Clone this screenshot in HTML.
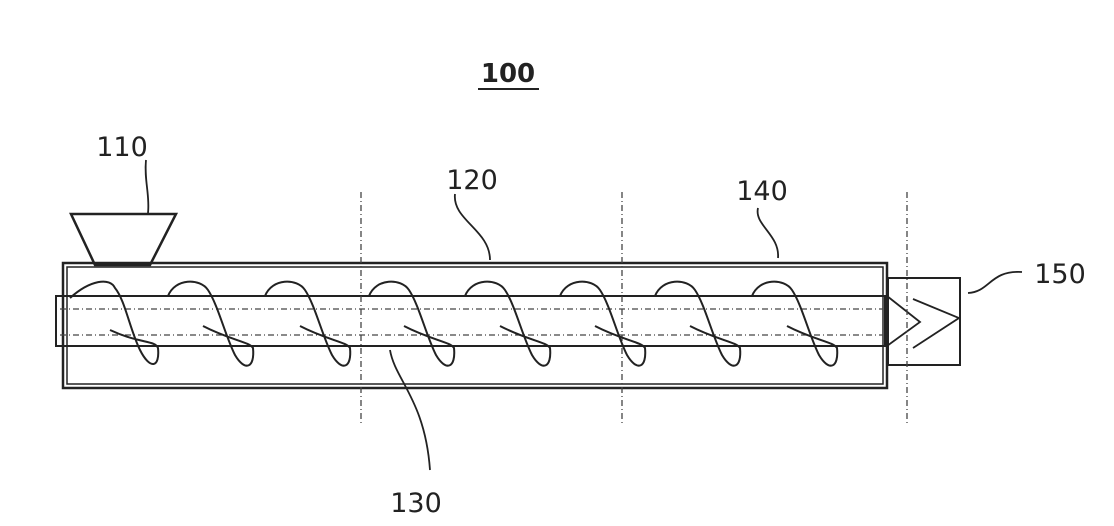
<!DOCTYPE html>
<html><head><style>
html,body{margin:0;padding:0;background:#fff;}
svg{display:block;}
text{font-family:"DejaVu Sans","Liberation Sans",sans-serif;fill:#222;}
</style></head><body>
<svg width="1114" height="526" viewBox="0 0 1114 526" xmlns="http://www.w3.org/2000/svg">
<text x="508" y="82" font-size="26" font-weight="bold" text-anchor="middle">100</text>
<line x1="478" y1="89" x2="539" y2="89" stroke="#222" stroke-width="2"/>
<g font-size="27" text-anchor="middle">
<text x="122" y="156">110</text>
<text x="472" y="189">120</text>
<text x="762" y="200">140</text>
<text x="1060" y="283">150</text>
<text x="416" y="512">130</text>
</g>
<g fill="none" stroke="#222" stroke-width="1.8">
<path d="M146 160 C144 180,150 195,148 213"/>
<path d="M455 194 C452 220,490 230,490 260"/>
<path d="M758 208 C754 225,780 235,778 258"/>
<path d="M1022 272 C990 270,990 292,968 293"/>
<path d="M390 350 C395 380,425 400,430 470"/>
<path d="M71 214 L176 214 L150 265 L95 265 Z" stroke-width="2.5"/>
<rect x="63" y="263" width="824" height="125" stroke-width="2.5"/>
<rect x="67" y="267" width="816" height="117" stroke-width="1.5"/>
<rect x="56" y="296" width="829" height="50" stroke-width="2"/>
<rect x="888" y="278" width="72" height="87" stroke-width="2"/>
<path d="M887 296 L920 322 L887 346" stroke-width="1.8"/>
<path d="M913 299 L959 318 L913 348" stroke-width="1.8"/>
</g>
<g fill="none" stroke="#444" stroke-width="1.3" stroke-dasharray="6 3 1 3">
<line x1="60" y1="309" x2="883" y2="309"/>
<line x1="60" y1="335" x2="883" y2="335"/>
<line x1="361" y1="192" x2="361" y2="426"/>
<line x1="622" y1="192" x2="622" y2="426"/>
<line x1="907" y1="192" x2="907" y2="426"/>
</g>
<g fill="none" stroke="#222" stroke-width="2">
<path d="M70 298 C90 280,110 277,115 288 C125 300,130 330,140 350 C150 370,160 368,158 348 C155 340,140 344,110 330"/>
<path d="M168 296 C175 278,200 278,208 290 C218 305,225 335,235 355 C245 372,255 368,253 348 C250 342,230 340,203 326"/>
<path d="M265 296 C272 278,297 278,305 290 C315 305,322 335,332 355 C342 372,352 368,350 348 C347 342,327 340,300 326"/>
<path d="M369 296 C376 278,401 278,409 290 C419 305,426 335,436 355 C446 372,456 368,454 348 C451 342,431 340,404 326"/>
<path d="M465 296 C472 278,497 278,505 290 C515 305,522 335,532 355 C542 372,552 368,550 348 C547 342,527 340,500 326"/>
<path d="M560 296 C567 278,592 278,600 290 C610 305,617 335,627 355 C637 372,647 368,645 348 C642 342,622 340,595 326"/>
<path d="M655 296 C662 278,687 278,695 290 C705 305,712 335,722 355 C732 372,742 368,740 348 C737 342,717 340,690 326"/>
<path d="M752 296 C759 278,784 278,792 290 C802 305,809 335,819 355 C829 372,839 368,837 348 C834 342,814 340,787 326"/>
</g>
</svg>
</body></html>
